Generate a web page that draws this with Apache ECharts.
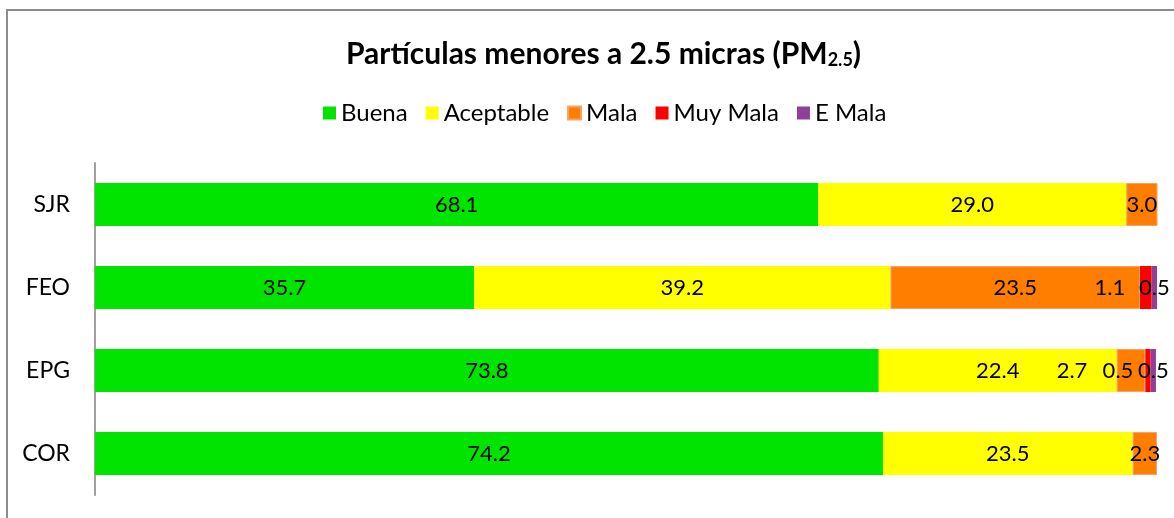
<!DOCTYPE html>
<html>
<head>
<meta charset="utf-8">
<script src="https://cdn.jsdelivr.net/npm/echarts@6/dist/echarts.min.js"></script>
<style>
  html, body { margin: 0; padding: 0; background: #fff; }
  #chart { width: 1174px; height: 518px; }
</style>
</head>
<body>
<div id="chart"></div>
<script>
const categories = ["SJR", "FEO", "EPG", "COR"];
const seriesNames = ["Buena", "Aceptable", "Mala", "Muy Mala", "E Mala"];
const buena = [68.1, 35.7, 73.8, 74.2];
const aceptable = [29.0, 39.2, 22.4, 23.5];
const mala = [3.0, 23.5, 2.7, 2.3];
const muyMala = [null, 1.1, 0.5, null];
const eMala = [null, 0.5, 0.5, null];

const colors = ["#00E400", "#FFFF00", "#FF7E00", "#FF0000", "#8F3F97"];
// labels that were moved by hand in the original (px, horizontal)
const labelShift = { "Mala-EPG": -59, "Muy Mala-FEO": -36, "Muy Mala-EPG": -30 };

const font = "Lato";
const myChart = echarts.init(document.getElementById("chart"));

function makeSeries(name, values, color) {
  return {
    name: name,
    type: "bar",
    stack: "total",
    barWidth: 43,
    itemStyle: {
      color: color,
      borderColor: name === "Mala" ? "#F5A36A" : color,
      borderWidth: name === "Mala" ? 1 : 0
    },
    label: {
      show: true,
      position: "inside",
      color: "#000",
      fontFamily: font,
      fontSize: 22,
      formatter: p => (p.value == null ? "" : Number(p.value).toFixed(1))
    },
    data: values.map((v, i) => {
      const dx = labelShift[name + "-" + categories[i]];
      return dx ? { value: v, label: { offset: [dx, 0] } } : v;
    })
  };
}

const allValues = [buena, aceptable, mala, muyMala, eMala];

let option = {
  backgroundColor: "#fff",
  animation: false,
  title: {
    text: "{b|Partículas menores a 2.5 micras (PM}{s|2.5}{b|)}",
    left: 341,
    top: 26,
    textStyle: {
      rich: {
        b: { fontFamily: font, fontSize: 30, fontWeight: "bold", color: "#000", lineHeight: 38, verticalAlign: "bottom" },
        s: { fontFamily: font, fontSize: 18, fontWeight: "bold", color: "#000", lineHeight: 16, verticalAlign: "bottom" }
      }
    }
  },
  legend: {
    top: 96,
    left: 318,
    itemWidth: 13,
    itemHeight: 13,
    itemGap: 18,
    icon: "rect",
    textStyle: { fontFamily: font, fontSize: 24, color: "#000" },
    data: seriesNames
  },
  grid: {
    left: 95,
    right: 17,
    top: 163,
    bottom: 23,
    containLabel: false
  },
  xAxis: {
    type: "value",
    min: 0,
    max: 100,
    show: false
  },
  yAxis: {
    type: "category",
    inverse: true,
    data: categories,
    axisLine: { show: true, lineStyle: { color: "#A0A0A0", width: 2 } },
    axisTick: { show: false },
    axisLabel: { fontFamily: font, fontSize: 23, color: "#000", margin: 25 }
  },
  graphic: [
    { type: "line", shape: { x1: 7, y1: 10, x2: 7, y2: 518 }, style: { stroke: "#8C8C8C", lineWidth: 2 } },
    { type: "line", shape: { x1: 6, y1: 10, x2: 1174, y2: 10 }, style: { stroke: "#8C8C8C", lineWidth: 2 } }
  ],
  series: seriesNames.map((n, k) => makeSeries(n, allValues[k], colors[k]))
};
myChart.setOption(option, true);
</script>
</body>
</html>
